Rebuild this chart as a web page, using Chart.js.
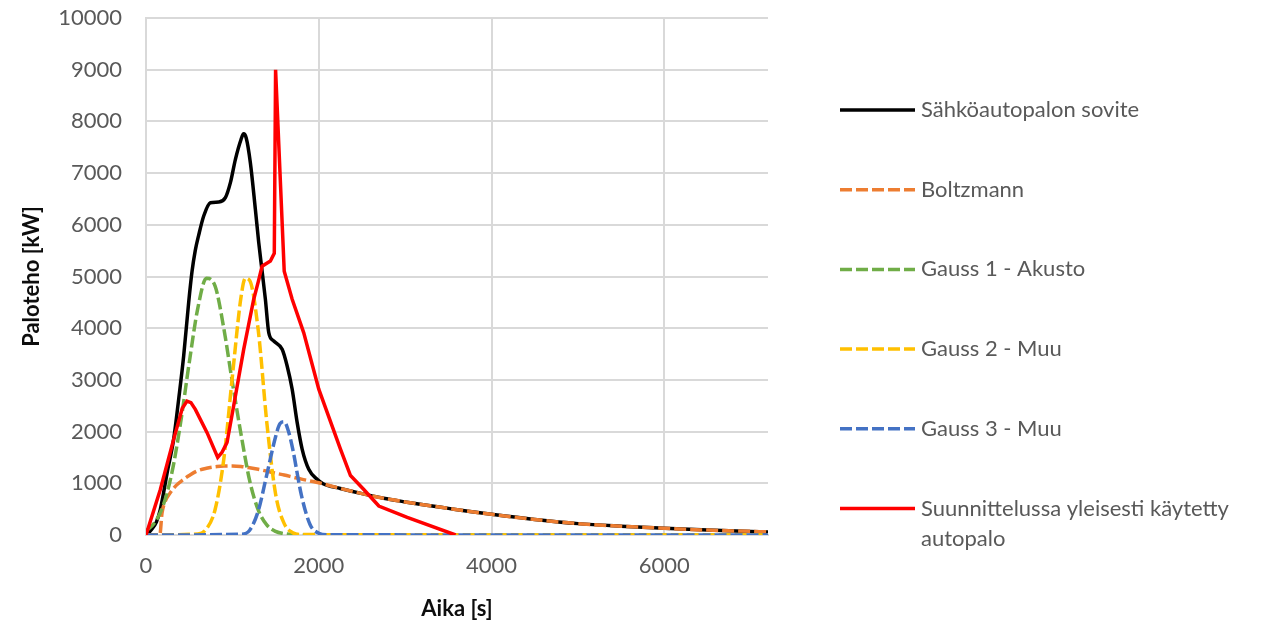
<!DOCTYPE html>
<html>
<head>
<meta charset="utf-8">
<script src="https://cdn.jsdelivr.net/npm/chart.js@4.4.1/dist/chart.umd.min.js"></script>
<style>
  html, body { margin: 0; padding: 0; background: #fff; }
</style>
</head>
<body>
<canvas id="fire-chart" width="1283" height="625"></canvas>
<script>
// series names, legend order
const seriesNames = [
    'Sähköautopalon sovite',
    'Boltzmann',
    'Gauss 1 - Akusto',
    'Gauss 2 - Muu',
    'Gauss 3 - Muu',
    ['Suunnittelussa yleisesti käytetty', 'autopalo']
];

// time [s] / power [kW]
const fitTime = [0, 60, 120, 166, 250, 320, 378, 436, 494, 533, 570, 610, 668, 745, 841, 919, 977, 1035, 1100, 1130, 1160, 1208, 1266, 1305, 1344, 1382, 1421, 1479, 1576, 1634, 1692, 1750, 1808, 1884, 1981, 2050, 2250, 2500, 2750, 3000, 3250, 3500, 3750, 4000, 4500, 5000, 5500, 6000, 6500, 7000, 7200];
const fitPower = [0, 100, 250, 497, 1250, 1851, 2624, 3462, 4500, 5100, 5500, 5800, 6170, 6428, 6441, 6525, 6815, 7266, 7650, 7760, 7680, 7202, 6299, 5655, 5100, 4558, 3914, 3752, 3591, 3268, 2818, 2174, 1657, 1271, 1077, 990, 900, 800, 710, 640, 575, 515, 455, 400, 300, 220, 170, 130, 95, 70, 60];

const boltzTime = [0, 160, 185, 220, 282, 350, 436, 500, 591, 700, 822, 900, 1000, 1100, 1200, 1300, 1400, 1500, 1600, 1700, 1800, 1900, 2000, 2250, 2500, 2750, 3000, 3250, 3500, 3750, 4000, 4500, 5000, 5500, 6000, 6500, 7000, 7200];
const boltzPower = [0, 0, 420, 640, 820, 960, 1077, 1150, 1238, 1290, 1323, 1333, 1335, 1325, 1300, 1270, 1235, 1195, 1160, 1120, 1080, 1045, 1010, 900, 800, 710, 640, 575, 515, 455, 400, 300, 220, 170, 130, 95, 70, 60];

const gauss1Time = [0, 100, 200, 300, 400, 500, 600, 700, 800, 900, 1000, 1100, 1200, 1300, 1400, 1500, 1600, 1800, 7200];
const gauss1Power = [80, 236, 577, 1206, 2165, 3329, 4390, 4965, 4815, 4004, 2950, 1950, 1050, 480, 190, 70, 25, 0, 0];

const gauss2Time = [0, 600, 700, 800, 900, 1000, 1100, 1150, 1200, 1300, 1400, 1500, 1600, 1700, 1800, 7200];
const gauss2Power = [0, 21, 120, 494, 1459, 3069, 4603, 4966, 4925, 3950, 2150, 794, 220, 43, 8, 0];

const gauss3Time = [0, 1100, 1200, 1300, 1400, 1500, 1550, 1600, 1650, 1700, 1800, 1900, 2000, 2100, 7200];
const gauss3Power = [0, 15, 93, 470, 1180, 1900, 2150, 2190, 2000, 1650, 760, 200, 35, 4, 0];

const designTime = [0, 166, 320, 420, 475, 520, 571, 707, 830, 880, 938, 1015, 1131, 1247, 1300, 1344, 1440, 1485, 1500, 1600, 1692, 1826, 2000, 2251, 2367, 2521, 2695, 3024, 3584];
const designPower = [0, 880, 1850, 2450, 2590, 2560, 2430, 1980, 1500, 1600, 1790, 2500, 3590, 4560, 4900, 5200, 5300, 5450, 9000, 5100, 4560, 3910, 2820, 1660, 1150, 880, 560, 340, 0];

const xTicks = [0, 2000, 4000, 6000];

const seriesColors = ['#000000', '#ed7d31', '#70ad47', '#ffc000', '#4472c4', '#ff0000'];
const FONT = 'Lato, "Open Sans", sans-serif';

function pairs(xs, ys) {
    return xs.map((x, i) => ({ x: x, y: ys[i] }));
}

function makeSet(i, xs, ys, dashed, order) {
    return {
        label: seriesNames[i],
        data: pairs(xs, ys),
        borderColor: seriesColors[i],
        backgroundColor: seriesColors[i],
        borderWidth: 3.5,
        borderDash: dashed ? [12, 4] : [],
        pointRadius: 0,
        showLine: true,
        fill: false,
        cubicInterpolationMode: i === 5 ? 'default' : 'monotone',
        tension: 0,
        order: order
    };
}

// draws the legend to the right of the plot
const sideLegend = {
    id: 'sideLegend',
    afterDraw(chart) {
        const ctx = chart.ctx;
        ctx.save();
        ctx.font = '22px ' + FONT;
        ctx.textBaseline = 'middle';
        chart.data.datasets.forEach((ds, i) => {
            const y = 110 + i * 79.7;
            ctx.strokeStyle = ds.borderColor;
            ctx.lineWidth = 3.5;
            ctx.setLineDash(ds.borderDash);
            ctx.beginPath();
            ctx.moveTo(840, y);
            ctx.lineTo(915, y);
            ctx.stroke();
            ctx.fillStyle = '#595959';
            const lines = Array.isArray(ds.label) ? ds.label : [ds.label];
            lines.forEach((t, k) => ctx.fillText(t, 921, y + k * 30));
        });
        ctx.restore();
    }
};

const ctx = document.getElementById('fire-chart').getContext('2d');
const chart = new Chart(ctx, {
    type: 'scatter',
    data: {
        datasets: [
            makeSet(0, fitTime, fitPower, false, 6),
            makeSet(1, boltzTime, boltzPower, true, 5),
            makeSet(2, gauss1Time, gauss1Power, true, 4),
            makeSet(3, gauss2Time, gauss2Power, true, 3),
            makeSet(4, gauss3Time, gauss3Power, true, 2),
            makeSet(5, designTime, designPower, false, 1)
        ]
    },
    options: {
        responsive: false,
        animation: false,
        layout: { padding: { left: 0, right: 515, top: 18, bottom: 0 } },
        plugins: {
            legend: { display: false },
            tooltip: { enabled: false }
        },
        scales: {
            x: {
                type: 'linear',
                min: 0,
                max: 7200,
                afterBuildTicks: (scale) => {
                    scale.ticks = xTicks.map(v => ({ value: v }));
                },
                afterFit: (scale) => { scale.height = 90; },
                ticks: {
                    color: '#595959',
                    font: { family: FONT, size: 22 },
                    padding: 18,
                    maxRotation: 0,
                    callback: (v) => String(v)
                },
                grid: { color: '#d9d9d9', lineWidth: 2, drawTicks: false },
                border: { color: '#d9d9d9', width: 2 },
                title: {
                    display: true,
                    text: 'Aika [s]',
                    color: '#0d0d0d',
                    font: { family: FONT, size: 22, weight: 'bold' },
                    padding: { top: 0, bottom: 3 }
                }
            },
            y: {
                min: 0,
                max: 10000,
                afterFit: (scale) => { scale.width = 146; },
                ticks: {
                    stepSize: 1000,
                    color: '#595959',
                    font: { family: FONT, size: 22 },
                    padding: 0,
                    callback: (v) => String(v)
                },
                grid: {
                    color: '#d9d9d9',
                    lineWidth: 2,
                    drawTicks: true,
                    tickLength: 24,
                    tickColor: 'rgba(0,0,0,0)'
                },
                border: { color: '#d9d9d9', width: 2 },
                title: {
                    display: true,
                    text: 'Paloteho [kW]',
                    color: '#0d0d0d',
                    font: { family: FONT, size: 22, weight: 'bold' },
                    padding: { top: 19, bottom: 0 }
                }
            }
        }
    },
    plugins: [sideLegend]
});
</script>
</body>
</html>
